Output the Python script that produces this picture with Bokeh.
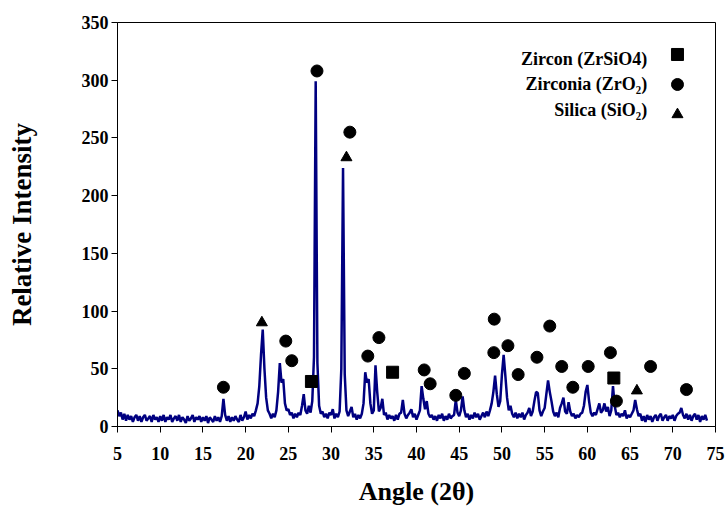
import numpy as np
from bokeh.plotting import figure
from bokeh.models import FixedTicker, Label
from bokeh.embed import file_html
from bokeh.resources import INLINE

# ---------------- data ----------------
ANGLE_START = 5.0
ANGLE_STEP = 0.2
intensity = [
    # 5.0 - 9.8
    14, 9, 12, 6, 11, 5, 10, 6, 9, 4, 8, 10, 5, 9, 4, 8, 10, 5, 7, 9, 4, 10, 6, 8, 4,
    # 10.0 - 14.8
    9, 5, 10, 4, 8, 6, 10, 4, 7, 9, 5, 10, 4, 8, 6, 3, 9, 5, 7, 10, 4, 8, 6, 9, 4,
    # 15.0 - 19.8
    8, 5, 9, 3, 8, 6, 4, 9, 5, 8, 4, 9, 24, 10, 5, 9, 4, 8, 5, 9, 6, 4, 10, 5, 8,
    # 20.0 - 24.8
    13, 6, 10, 7, 11, 9, 14, 20, 35, 62, 84, 50, 25, 14, 11, 7, 11, 8, 14, 30, 55, 38, 41, 20, 14,
    # 25.0 - 29.8
    15, 10, 12, 7, 11, 8, 12, 10, 18, 28, 14, 11, 18, 12, 22, 60, 299, 55, 18, 11, 13, 8, 11, 7, 12,
    # 30.0 - 34.8
    10, 15, 7, 11, 8, 13, 50, 224, 45, 14, 9, 13, 17, 8, 11, 6, 10, 7, 11, 20, 47, 38, 41, 20, 11,
    # 35.0 - 39.8
    14, 53, 30, 13, 16, 24, 10, 12, 6, 10, 7, 9, 5, 10, 6, 11, 12, 23, 11, 7, 10, 12, 15, 8, 11,
    # 40.0 - 44.8
    6, 10, 14, 35, 24, 15, 22, 11, 8, 10, 6, 9, 5, 10, 7, 11, 5, 9, 6, 11, 7, 9, 10, 23, 12,
    # 45.0 - 49.8
    9, 14, 26, 14, 8, 11, 6, 10, 7, 12, 8, 11, 6, 9, 12, 8, 13, 9, 14, 20, 30, 44, 28, 17, 22,
    # 50.0 - 54.8
    45, 62, 44, 25, 14, 18, 11, 8, 12, 7, 11, 8, 12, 6, 10, 12, 16, 9, 13, 22, 30, 29, 14, 9, 13,
    # 55.0 - 59.8
    16, 28, 40, 30, 22, 13, 9, 12, 8, 16, 20, 25, 13, 11, 21, 13, 9, 11, 7, 10, 8, 11, 12, 18, 30,
    # 60.0 - 64.8
    36, 22, 12, 9, 12, 10, 15, 20, 12, 14, 20, 13, 17, 9, 14, 35, 18, 10, 12, 8, 11, 9, 14, 7, 10,
    # 65.0 - 69.8
    8, 11, 14, 23, 15, 9, 11, 5, 9, 4, 10, 6, 9, 4, 8, 10, 5, 9, 11, 5, 8, 10, 5, 9, 7,
    # 70.0 - 74.0
    10, 5, 9, 11, 12, 16, 10, 7, 11, 6, 10, 5, 9, 11, 6, 10, 4, 9, 6, 10, 5,
]
angle = np.round(ANGLE_START + ANGLE_STEP * np.arange(len(intensity)), 1)

zirconia_x = [17.4, 24.7, 25.4, 28.35, 32.2, 34.3, 35.6, 40.9, 41.6, 44.6, 45.6, 49.05,
              49.1, 50.7, 51.9, 54.1, 55.6, 57.0, 58.3, 60.1, 62.7, 63.4, 67.4, 71.6]
zirconia_y = [34, 74, 57, 308, 255, 61, 77, 49, 37, 27, 46, 64,
              93, 70, 45, 60, 87, 52, 34, 52, 64, 22, 52, 32]
zircon_x = [27.7, 37.2, 63.1]
zircon_y = [39, 47, 42]
silica_x = [21.9, 31.8, 65.8]
silica_y = [90, 233, 31]

x_ticks = list(range(5, 80, 5))
y_ticks = list(range(0, 400, 50))
legend_labels = ["Zircon (ZrSiO4)", "Zirconia (ZrO\u2082)", "Silica (SiO\u2082)"]

# ---------------- figure ----------------
FONT = "Liberation Serif"
p = figure(width=728, height=512, x_range=(5, 75), y_range=(0, 350),
           output_backend="svg", toolbar_location=None,
           min_border_left=117, min_border_right=13, min_border_top=22, min_border_bottom=86)
p.background_fill_color = "white"
p.border_fill_color = "white"
p.outline_line_color = "black"
p.outline_line_width = 1
p.xgrid.visible = False
p.ygrid.visible = False

for ax in (p.xaxis[0], p.yaxis[0]):
    ax.axis_line_color = "black"
    ax.axis_line_width = 1
    ax.major_tick_line_color = "black"
    ax.major_tick_in = 0
    ax.major_tick_out = 6
    ax.minor_tick_line_color = None
    ax.major_label_text_font = FONT
    ax.major_label_text_font_style = "bold"
    ax.major_label_text_font_size = "18px"
    ax.major_label_text_color = "black"
    ax.axis_label_text_font = FONT
    ax.axis_label_text_font_style = "bold"
    ax.axis_label_text_color = "black"

p.xaxis.ticker = FixedTicker(ticks=x_ticks)
p.yaxis.ticker = FixedTicker(ticks=y_ticks)
p.xaxis.major_label_standoff = 14
p.yaxis.major_label_standoff = 3

p.yaxis.axis_label = "Relative Intensity"
p.yaxis.axis_label_text_font_size = "27px"
p.yaxis.axis_label_standoff = 42

p.xaxis.axis_label = "Angle (2\u03b8)"
p.xaxis.axis_label_text_font_size = "26px"
p.xaxis.axis_label_standoff = 14

p.line(angle, intensity, line_color="#000080", line_width=2.5)

p.scatter(zirconia_x, zirconia_y, marker="circle", size=12, color="black")
p.scatter(zircon_x, zircon_y, marker="square", size=12, color="black")
p.scatter(silica_x, silica_y, marker="triangle", size=11, color="black")

# legend (layout positions in data units)
LEG_TEXT_X = 67.0
LEG_MARK_X = 70.55
leg_text_y = [318.8, 297.1, 274.6]
leg_mark_y = [322.3, 296.3, 270.3]
leg_markers = [("square", 12), ("circle", 12), ("triangle", 11)]
for lbl, ty in zip(legend_labels, leg_text_y):
    p.add_layout(Label(x=LEG_TEXT_X, y=ty, text=lbl, text_align="right",
                       text_baseline="middle", text_font=FONT, text_font_style="bold",
                       text_font_size="18px", text_color="black"))
for (m, s), my in zip(leg_markers, leg_mark_y):
    p.scatter([LEG_MARK_X], [my], marker=m, size=s, color="black")

open("out.html", "w").write(file_html(p, INLINE))
